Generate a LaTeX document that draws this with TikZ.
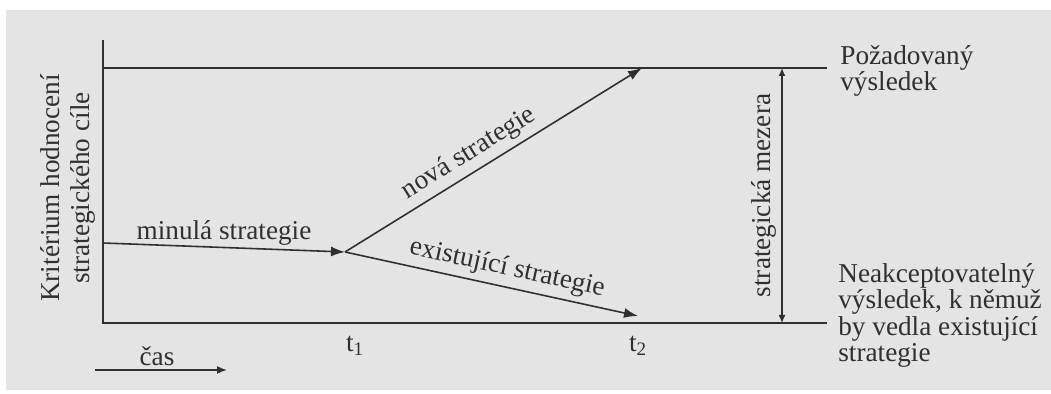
\documentclass[tikz,border=0pt]{standalone}
\usepackage{fontspec}
\setmainfont{Liberation Serif}
\usetikzlibrary{arrows.meta,positioning}
\definecolor{paper}{RGB}{228,228,228}
\definecolor{ink}{RGB}{48,48,48}

\begin{document}
\begin{tikzpicture}[
  x=0.02cm, y=-0.02cm,
  lbl/.style={font=\fontsize{15.5}{13}\selectfont, text=ink},
  axisline/.style={draw=ink, line width=1pt},
  arr/.style={-{Latex[length=2.8mm,width=2mm]}, draw=ink, line width=0.9pt},
  gaparr/.style={{Latex[length=1.6mm,width=1.4mm]}-{Latex[length=1.6mm,width=1.4mm]},
                 draw=ink, line width=0.8pt}
]
\useasboundingbox (0,0) rectangle (1051,394);
\fill[paper] (6,10) rectangle (1051,390);

% axes and the goal line
\coordinate (ytop) at (103,40);
\coordinate (O) at (103,323);
\coordinate (xend) at (827,323);
\coordinate (goalL) at (103,68);
\coordinate (goalR) at (827,68);
\draw[axisline] (ytop) -- (O) -- (xend);
\draw[axisline] (goalL) -- (goalR);

% strategies
\coordinate (past) at (103,243);
\coordinate (t1pt) at (345,252);
\coordinate (newend) at (642,68);
\coordinate (oldend) at (638,316);
\draw[arr] (past) -- node[lbl, above, inner sep=1pt] (lblpast) {minulá strategie} (t1pt);
\draw[arr] (t1pt) -- node[lbl, sloped, above, pos=.45, inner sep=3pt] (lblnew) {nová strategie} (newend);
\draw[arr] (t1pt) -- node[lbl, sloped, above, pos=.54, inner sep=3pt] (lblold) {existující strategie} (oldend);

% strategic gap
\coordinate (gapbot) at (782,323);
\coordinate (gaptop) at (782,68);
\draw[gaparr] (gapbot) -- node[lbl, sloped, above, inner sep=3pt] (lblgap) {strategická mezera} (gaptop);

% labels
\node[lbl, rotate=90, align=center, font=\fontsize{15.5}{17.6}\selectfont] (ylbl) at (68,188)
  {Kritérium hodnocení\\strategického cíle};
\node[lbl] (t1lbl) at (355,346) {t\textsubscript{1}};
\node[lbl] (t2lbl) at (638,346) {t\textsubscript{2}};
\node[lbl, anchor=north west, align=left, inner sep=0pt] (goal) at (840,45)
  {Požadovaný\\výsledek};
\node[lbl, anchor=north west, align=left, inner sep=0pt, font=\fontsize{15.5}{12}\selectfont] (fail) at (838,263)
  {Neakceptovatelný\\výsledek, k němuž\\by vedla existující\\strategie};

% time
\coordinate (tstart) at (95,370);
\coordinate (tend) at (227,370);
\draw[-{Latex[length=2mm,width=1.6mm]}, draw=ink, line width=0.9pt] (tstart) --
  node[lbl, above, pos=.47, inner sep=2pt] (lbltime) {čas} (tend);
\end{tikzpicture}
\end{document}
